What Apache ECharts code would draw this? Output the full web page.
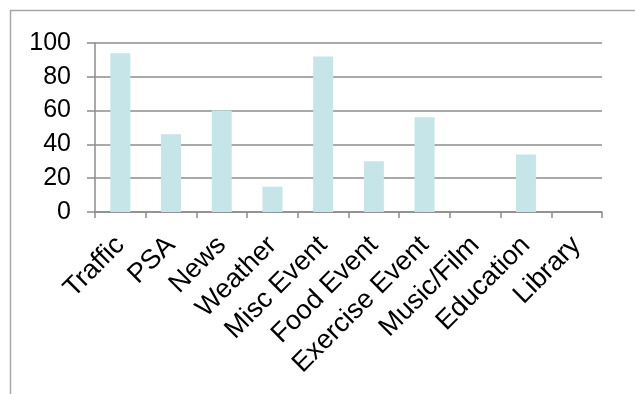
<!DOCTYPE html>
<html>
<head>
<meta charset="utf-8">
<script src="https://cdn.jsdelivr.net/npm/echarts@6/dist/echarts.min.js"></script>
<style>
html,body{margin:0;padding:0;background:#fff;}
#chart{width:635px;height:394px;}
</style>
</head>
<body>
<div id="chart"></div>
<script>
var categories = ['Traffic','PSA','News','Weather','Misc Event','Food Event','Exercise Event','Music/Film','Education','Library'];
var values = [94, 46, 60, 15, 92, 30, 56, 0, 34, 0];
var yTicks = [0, 20, 40, 60, 80, 100];

var chart = echarts.init(document.getElementById('chart'), null, {renderer:'canvas'});
chart.setOption({
  animation: false,
  backgroundColor: '#fff',
  graphic: [{
    type: 'rect',
    left: 8, top: 8,
    shape: {width: 700, height: 500},
    style: {fill: 'none', stroke: '#a6a6a6', lineWidth: 1.5},
    silent: true
  }],
  grid: {left: 95, right: 33, top: 43, bottom: 182},
  xAxis: {
    type: 'category',
    data: categories,
    axisLine: {show: true, lineStyle: {color: '#8c8c8c', width: 1.5}},
    axisTick: {show: true, length: 6, alignWithLabel: false, lineStyle: {color: '#8c8c8c', width: 1.5}},
    axisLabel: {interval: 0, rotate: 45, margin: 29, color: '#000', fontFamily: 'Liberation Sans, Arial', fontSize: 27}
  },
  yAxis: {
    type: 'value',
    min: yTicks[0], max: yTicks[yTicks.length-1], interval: 20,
    axisLine: {show: true, lineStyle: {color: '#8c8c8c', width: 1.5}},
    axisTick: {show: true, length: 8, lineStyle: {color: '#8c8c8c', width: 1.5}},
    splitLine: {show: true, lineStyle: {color: '#8c8c8c', width: 1.5}},
    axisLabel: {margin: 24, color: '#000', fontFamily: 'Liberation Sans, Arial', fontSize: 25}
  },
  series: [{
    type: 'bar',
    data: values,
    barWidth: 20,
    itemStyle: {color: '#c5e5e8'}
  }]
});
</script>
</body>
</html>
